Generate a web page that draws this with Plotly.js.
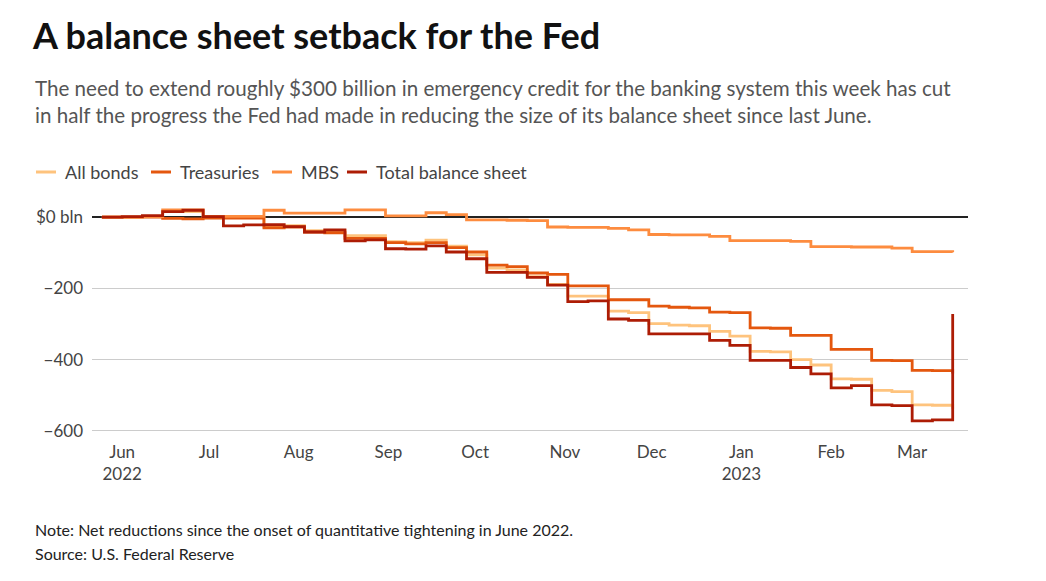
<!DOCTYPE html>
<html>
<head>
<meta charset="utf-8">
<script src="https://cdn.plot.ly/plotly-3.0.1.min.js"></script>
<style>
  html, body { margin: 0; padding: 0; background: #fff; }
  #chart { width: 1046px; height: 581px; }
</style>
</head>
<body>
<div id="chart"></div>
<script>
// Weekly dates (Wednesdays)
const dates = [
  "2022-05-25","2022-06-01","2022-06-08","2022-06-15","2022-06-22","2022-06-29",
  "2022-07-06","2022-07-13","2022-07-20","2022-07-27","2022-08-03","2022-08-10",
  "2022-08-17","2022-08-24","2022-08-31","2022-09-07","2022-09-14","2022-09-21",
  "2022-09-28","2022-10-05","2022-10-12","2022-10-19","2022-10-26","2022-11-02",
  "2022-11-09","2022-11-16","2022-11-23","2022-11-30","2022-12-07","2022-12-14",
  "2022-12-21","2022-12-28","2023-01-04","2023-01-11","2023-01-18","2023-01-25",
  "2023-02-01","2023-02-08","2023-02-15","2023-02-22","2023-03-01","2023-03-08",
  "2023-03-15"
];

// Net change since start of QT, $ billions
const allBonds = [
  0, 0, 1, 16, 15, -1, -1, -1, -26, -24, -38, -38, -52, -52, -69, -72, -65, -82,
  -106, -143, -148, -167, -189, -222, -222, -264, -268, -299, -303, -305, -321, -334,
  -377, -378, -400, -415, -454, -455, -486, -490, -527, -528, -538
];
const treasuries = [
  0, 0, 0, -4, -5, -3, -3, -3, -30, -28, -42, -44, -60, -60, -72, -75, -72, -86,
  -98, -135, -139, -157, -161, -193, -193, -232, -232, -250, -253, -255, -267, -268,
  -311, -312, -332, -332, -371, -371, -402, -403, -430, -431, -439
];
const mbs = [
  0, 0, 1, 20, 20, 2, 2, 2, 19, 11, 11, 11, 20, 20, 3, 3, 12, 7,
  -8, -8, -9, -10, -28, -29, -29, -32, -36, -49, -50, -50, -54, -66,
  -66, -66, -68, -83, -83, -84, -84, -87, -97, -97, -99
];
const totalBalanceSheet = [
  0, 1, 4, 15, 19, 1, -25, -22, -21, -27, -42, -36, -67, -64, -89, -90, -81, -98,
  -117, -155, -155, -169, -191, -237, -235, -286, -290, -328, -328, -328, -346, -360,
  -402, -402, -422, -440, -479, -473, -527, -529, -572, -569, -272
];

const seriesNames = ["All bonds", "Treasuries", "MBS", "Total balance sheet"];
const seriesColors = ["#fec37d", "#e4570e", "#fd8c3f", "#ad1c05"];

const xTickVals = ["2022-06-01","2022-07-01","2022-08-01","2022-09-01","2022-10-01",
  "2022-11-01","2022-12-01","2023-01-01","2023-02-01","2023-03-01"];
const xTickText = ["Jun<br>2022","Jul","Aug","Sep","Oct","Nov","Dec","Jan<br>2023","Feb","Mar"];
const yTickVals = [0, -200, -400, -600];
const yTickText = ["$0 bln", "\u2212200", "\u2212400", "\u2212600"];

const values = [allBonds, treasuries, mbs, totalBalanceSheet];
const traces = values.map((v, i) => ({
  type: "scatter",
  mode: "lines",
  x: dates,
  y: v,
  name: seriesNames[i],
  showlegend: false,
  line: { color: seriesColors[i], width: 2.8, shape: "hv" },
  hoverinfo: "skip"
}));

const FONT = "Lato, 'Source Sans Pro', 'Noto Sans', sans-serif";
const L = 92, W = 876, T = 201, H = 231;
const px = (x) => (x - L) / W;
const py = (y) => (T + H - y) / H;

// Legend layout (pixel positions of each entry's swatch start)
const legendX = [36, 151, 272, 347];
const legendY = 172;
const legendShapes = seriesNames.map((n, i) => ({
  type: "line", xref: "paper", yref: "paper",
  x0: px(legendX[i]), x1: px(legendX[i] + 20), y0: py(legendY), y1: py(legendY),
  line: { color: seriesColors[i], width: 3 }
}));
const legendLabels = seriesNames.map((n, i) => ({
  text: n, xref: "paper", yref: "paper",
  x: px(legendX[i] + 27), y: py(legendY),
  xanchor: "left", yanchor: "middle", showarrow: false,
  font: { family: FONT, size: 18, color: "#444" }
}));

const layout = {
  width: 1046, height: 581,
  margin: { l: 92, r: 78, t: T, b: 581 - T - H },
  paper_bgcolor: "#fff", plot_bgcolor: "#fff",
  font: { family: FONT, size: 17, color: "#444" },
  showlegend: false,
  title: {
    text: "<b>A balance sheet setback for the Fed</b>",
    font: { family: FONT, size: 36, color: "#111" },
    x: 33 / 1046, xanchor: "left", xref: "container",
    y: 1 - 36 / 581, yanchor: "middle", yref: "container"
  },
  xaxis: {
    type: "date",
    range: ["2022-05-21 14:00", "2023-03-20 07:00"],
    tickvals: xTickVals, ticktext: xTickText,
    showgrid: false, zeroline: false, showline: false, ticks: "",
    ticklabelstandoff: 8,
    tickfont: { family: FONT, size: 17, color: "#444" }
  },
  yaxis: {
    range: [-603, 45],
    tickvals: yTickVals, ticktext: yTickText,
    showgrid: true, gridcolor: "#cccccc", gridwidth: 1,
    zeroline: true, zerolinecolor: "#222", zerolinewidth: 1.5,
    showline: false, ticks: "", ticklabelstandoff: 8,
    tickfont: { family: FONT, size: 17, color: "#444" }
  },
  shapes: legendShapes,
  annotations: [
    {
      text: "The need to extend roughly $300 billion in emergency credit for the banking system this week has cut<br>in half the progress the Fed had made in reducing the size of its balance sheet since last June.",
      xref: "paper", yref: "paper", x: px(33), y: py(101),
      xanchor: "left", yanchor: "middle", align: "left", showarrow: false,
      font: { family: FONT, size: 20.6, color: "#555" }
    },
    {
      text: "Note: Net reductions since the onset of quantitative tightening in June 2022.",
      xref: "paper", yref: "paper", x: px(33), y: py(529),
      xanchor: "left", yanchor: "middle", align: "left", showarrow: false,
      font: { family: FONT, size: 16, color: "#222" }
    },
    {
      text: "Source: U.S. Federal Reserve",
      xref: "paper", yref: "paper", x: px(33), y: py(553),
      xanchor: "left", yanchor: "middle", align: "left", showarrow: false,
      font: { family: FONT, size: 16, color: "#222" }
    }
  ].concat(legendLabels)
};

Plotly.newPlot("chart", traces, layout, { staticPlot: true, displayModeBar: false });
</script>
</body>
</html>
